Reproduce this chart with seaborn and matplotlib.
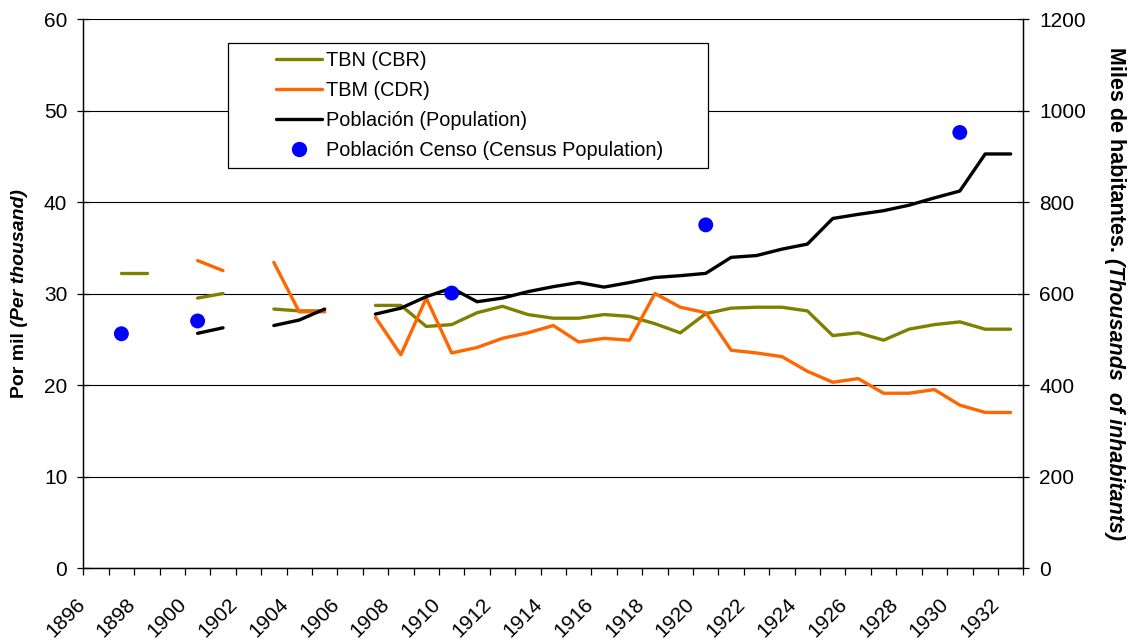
import numpy as np
import pandas as pd
import matplotlib
matplotlib.use("Agg")
import matplotlib.pyplot as plt
from matplotlib.lines import Line2D
from matplotlib.legend_handler import HandlerLine2D
from matplotlib.transforms import ScaledTranslation
import seaborn as sns

# --- data ---
years = list(range(1896, 1933))

tbn = [np.nan, 32.2, 32.2, np.nan, 29.5, 30.0, np.nan, 28.3, 28.1, 28.1,
       np.nan, 28.7, 28.7, 26.4, 26.6, 27.9, 28.6, 27.7, 27.3, 27.3,
       27.7, 27.5, 26.7, 25.7, 27.8, 28.4, 28.5, 28.5, 28.1, 25.4,
       25.7, 24.9, 26.1, 26.6, 26.9, 26.1, 26.1]

tbm = [np.nan, np.nan, np.nan, np.nan, 33.6, 32.5, np.nan, 33.4, 28.0, 28.0,
       np.nan, 27.4, 23.3, 29.5, 23.5, 24.1, 25.1, 25.7, 26.5, 24.7,
       25.1, 24.9, 30.0, 28.5, 27.9, 23.8, 23.5, 23.1, 21.5, 20.3,
       20.7, 19.1, 19.1, 19.5, 17.8, 17.0, 17.0]

poblacion = [np.nan, np.nan, np.nan, np.nan, 513, 525, np.nan, 530, 542, 566,
             np.nan, 555, 568, 593, 612, 582, 590, 604, 615, 624,
             614, 624, 635, 639, 644, 679, 683, 697, 708, 764,
             773, 781, 793, 809, 824, 905, 905]

censo_years = [1897, 1900, 1910, 1920, 1930]
censo_values = [512, 540, 601, 750, 952]

tick_years = list(range(1896, 1933, 2))

labels = ["TBN (CBR)", "TBM (CDR)", "Población (Population)",
          "Población Censo (Census Population)"]

OLIVE = "#808000"
ORANGE = "#FF6600"
BLUE = "#0000FF"
LW = 2.4


def to_segments(values):
    # gaps in the series break the line, like in the original chart
    s = pd.Series(values)
    df = pd.DataFrame({"year": years, "value": values,
                       "seg": s.isna().cumsum().values})
    return df.dropna()


class RightLineHandler(HandlerLine2D):
    # legend key drawn only in the right part of the handle box
    def __init__(self, line_len, **kw):
        super().__init__(**kw)
        self.line_len = line_len

    def create_artists(self, legend, orig_handle, xdescent, ydescent,
                       width, height, fontsize, trans):
        extra = width - self.line_len
        return super().create_artists(legend, orig_handle, xdescent - extra,
                                      ydescent, self.line_len, height,
                                      fontsize, trans)


sns.set_theme(style="white")
plt.rcParams["font.family"] = ["Liberation Sans", "DejaVu Sans"]
plt.rcParams["text.color"] = "black"
plt.rcParams["xtick.color"] = "black"
plt.rcParams["ytick.color"] = "black"
plt.rcParams["axes.labelcolor"] = "black"
FS = 15

fig, ax = plt.subplots(figsize=(11.3, 6.4), dpi=100)
fig.subplots_adjust(left=0.0737, right=0.9056, top=0.9703, bottom=0.1125)
ax2 = ax.twinx()

sns.lineplot(data=to_segments(tbn), x="year", y="value", units="seg",
             estimator=None, color=OLIVE, lw=LW, ax=ax, legend=False)
sns.lineplot(data=to_segments(tbm), x="year", y="value", units="seg",
             estimator=None, color=ORANGE, lw=LW, ax=ax, legend=False)
sns.lineplot(data=to_segments(poblacion), x="year", y="value", units="seg",
             estimator=None, color="black", lw=LW, ax=ax2, legend=False)
sns.scatterplot(x=censo_years, y=censo_values, color=BLUE, s=115,
                edgecolor="none", ax=ax2, legend=False, zorder=5)

# --- axes ---
ax.set_xlim(1895.5, 1932.5)
ax.set_ylim(0, 60)
ax2.set_ylim(0, 1200)
ax.set_yticks(range(0, 61, 10))
ax2.set_yticks(range(0, 1201, 200))
ax.set_xticks(tick_years)
ax.set_xticks(np.arange(1895.5, 1933, 1), minor=True)
ax.set_xlabel("")
ax.set_ylabel("")
ax2.set_ylabel("")

ax.yaxis.grid(True, color="black", lw=0.8)
ax.set_axisbelow(True)

for a in (ax, ax2):
    for side in a.spines:
        a.spines[side].set_color("black")
        a.spines[side].set_linewidth(0.9)
    a.spines["top"].set_visible(False)

ax.tick_params(axis="y", direction="inout", length=9, width=0.9,
               labelsize=FS, pad=7, left=True)
ax2.tick_params(axis="y", direction="inout", length=9, width=0.9,
                labelsize=FS, pad=7, right=True)
ax.tick_params(axis="x", which="major", length=0, labelsize=FS, pad=24)
ax.tick_params(axis="x", which="minor", direction="out", length=5,
               width=0.9, bottom=True)

offset = ScaledTranslation(-14 / 100, 0, fig.dpi_scale_trans)
for lab in ax.get_xticklabels():
    lab.set_rotation(45)
    lab.set_ha("right")
    lab.set_va("center")
    lab.set_rotation_mode("anchor")
    lab.set_transform(lab.get_transform() + offset)

# --- legend ---
LEG_FS = 14.3
handles = [
    Line2D([], [], color=OLIVE, lw=LW),
    Line2D([], [], color=ORANGE, lw=LW),
    Line2D([], [], color="black", lw=LW),
    Line2D([], [], color=BLUE, marker="o", ls="", markersize=10),
]
handler = RightLineHandler(line_len=33)
x0 = (228 - 83.3) / 940
w = (708 - 228) / 940
y0 = (568 - 168) / 549
h = (168 - 43) / 549
leg = ax2.legend(handles, labels, loc="upper left", mode="expand",
                 bbox_to_anchor=(x0, y0, w, h), borderaxespad=0,
                 fontsize=LEG_FS, frameon=True, fancybox=False,
                 edgecolor="black", framealpha=1, handlelength=4.3,
                 handletextpad=0.2, labelspacing=0.55, borderpad=0.42,
                 handler_map={Line2D: handler})
leg.get_frame().set_linewidth(0.9)

# --- axis titles: bold part + bold italic part ---
fig.canvas.draw()
renderer = fig.canvas.get_renderer()
W, H = fig.get_size_inches() * fig.dpi
center_y = (19 + 568) / 2  # pixels from top


def two_part_label(x_px, part1, part2, rotation, size):
    t1 = fig.text(0, 0, part1, rotation=rotation, rotation_mode="anchor",
                  ha="left", va="center", fontsize=size, fontweight="bold")
    t2 = fig.text(0, 0, part2, rotation=rotation, rotation_mode="anchor",
                  ha="left", va="center", fontsize=size, fontweight="bold",
                  fontstyle="italic")
    h1 = t1.get_window_extent(renderer).height
    h2 = t2.get_window_extent(renderer).height
    total = h1 + h2
    cy = H - center_y
    if rotation == 90:
        start = cy - total / 2
        t1.set_position((x_px / W, start / H))
        t2.set_position((x_px / W, (start + h1) / H))
    else:
        start = cy + total / 2
        t1.set_position((x_px / W, start / H))
        t2.set_position((x_px / W, (start - h1) / H))


two_part_label(20, "Por mil", " (Per thousand)", 90, 14)
two_part_label(1115, "Miles de habitantes.", " (Thousands  of inhabitants)",
               270, 15.5)

fig.savefig("out.png", dpi=100)
